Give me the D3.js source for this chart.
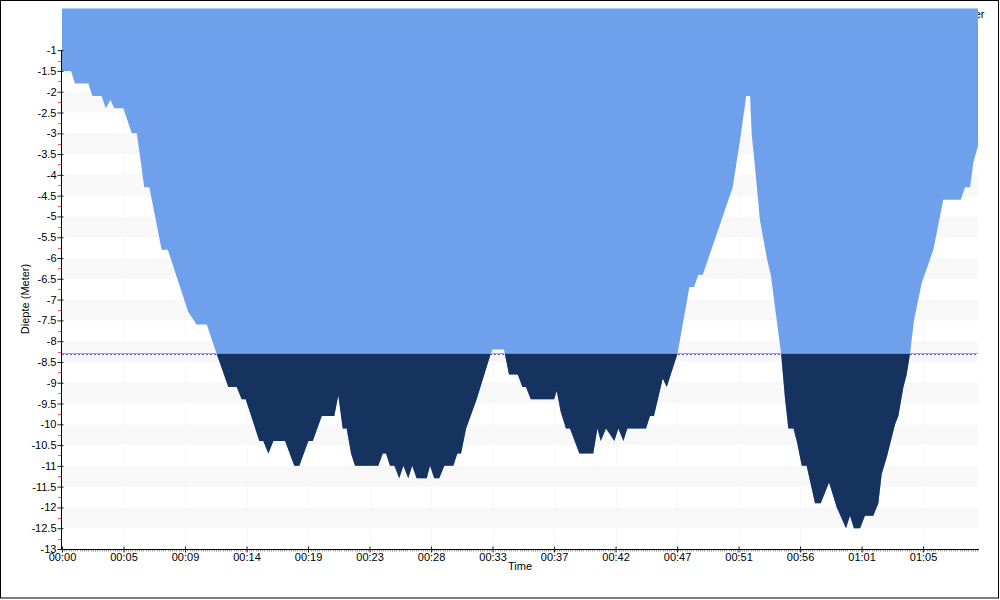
<!DOCTYPE html>
<html><head><meta charset="utf-8">
<script src="https://cdn.jsdelivr.net/npm/d3@7"></script>
<style>
body{margin:0;background:#fff}
svg{display:block}
text{font-family:"Liberation Sans",Arial,sans-serif;font-size:11px;fill:#000}
</style>
</head><body>
<svg id="chart" width="1000" height="600"></svg>
<script>
// ---- data (time in seconds, depth in metres) ----
const timeSec = [0,41,59,120,138,180,199,220,238,279,
 317,340,374,397,453,481,574,612,658,703,
 756,794,817,835,897,915,938,961,1014,1056,
 1079,1120,1140,1181,1238,1256,1276,1294,1314,1332,
 1438,1458,1473,1491,1511,1533,1552,1574,1592,1612,
 1658,1673,1692,1715,1738,1779,1797,1814,1837,1885,
 1949,1957,2009,2032,2072,2093,2109,2131,2237,2249,
 2267,2291,2309,2352,2415,2434,2449,2473,2511,2529,
 2552,2570,2655,2673,2691,2731,2749,2798,2852,2873,
 2893,2913,3049,3087,3110,3128,3135,3150,3173,3204,3222,
 3269,3287,3302,3325,3340,3363,3385,3423,3449,3487,
 3522,3564,3582,3600,3628,3650,3688,3711,3726,3749,
 3787,3802,3825,3840,3855,3873,3908,3961,4006,4086,
 4105,4128,4143,4164];
const depth = [-1.5,-1.5,-1.8,-1.8,-2.1,-2.1,-2.4,-2.2,-2.4,-2.4,
 -3.0,-3.0,-4.3,-4.3,-5.8,-5.8,-7.3,-7.6,-7.6,-8.3,
 -9.1,-9.1,-9.4,-9.4,-10.4,-10.4,-10.7,-10.4,-10.4,-11.0,
 -11.0,-10.4,-10.4,-9.8,-9.8,-9.3,-10.1,-10.1,-10.7,-11.0,
 -11.0,-10.7,-10.7,-11.0,-11.0,-11.3,-11.0,-11.3,-11.0,-11.3,
 -11.3,-11.0,-11.3,-11.3,-11.0,-11.0,-10.7,-10.7,-10.1,-9.4,
 -8.3,-8.2,-8.2,-8.8,-8.8,-9.1,-9.1,-9.4,-9.4,-9.2,
 -9.7,-10.1,-10.1,-10.7,-10.7,-10.1,-10.4,-10.1,-10.4,-10.1,
 -10.4,-10.1,-10.1,-9.8,-9.8,-8.9,-9.1,-8.3,-6.7,-6.7,
 -6.4,-6.4,-4.3,-3.0,-2.1,-2.1,-3.0,-3.8,-5.1,-6.0,-6.4,
 -8.3,-9.4,-10.1,-10.1,-10.4,-11.0,-11.0,-11.9,-11.9,-11.4,
 -12.0,-12.5,-12.2,-12.5,-12.5,-12.2,-12.2,-11.9,-11.2,-10.8,
 -10.0,-9.8,-9.1,-8.8,-8.3,-7.5,-6.6,-5.8,-4.6,-4.6,
 -4.3,-4.3,-3.7,-3.3];
const limitDepth = -8.3;
const xTickLabels = ["00:00","00:05","00:09","00:14","00:19","00:23","00:28","00:33","00:37","00:42","00:47","00:51","00:56","01:01","01:05"];
const xTickStepSec = 279.6;
const yTickLabels = ["-1","-1.5","-2","-2.5","-3","-3.5","-4","-4.5","-5","-5.5","-6","-6.5","-7","-7.5","-8","-8.5","-9","-9.5","-10","-10.5","-11","-11.5","-12","-12.5","-13"];
const yTitle = "Diepte (Meter)";
const xTitle = "Time";

// ---- layout ----
const svg = d3.select("#chart");
const L = 62, R = 978, T = 8.6, B = 549;
const x = d3.scaleLinear().domain([0, 4164]).range([L, R]);
const y = d3.scaleLinear().domain([0, -13]).range([T, B]);
const data = timeSec.map((t, i) => ({t, d: depth[i]}));
const yTickVals = yTickLabels.map(Number);

// border
svg.append("rect").attr("x",0.5).attr("y",0.5).attr("width",998).attr("height",597.5)
  .attr("fill","none").attr("stroke","#000");

// stripes
const bands = d3.range(0, 13, 1);
svg.append("g").selectAll("rect").data(bands).join("rect")
  .attr("x", L).attr("width", R - L)
  .attr("y", d => y(-d)).attr("height", d => y(-d - 0.5) - y(-d))
  .attr("fill", "#f8f8f8");

// faint vertical grid
const xTickVals = xTickLabels.map((_, i) => i * xTickStepSec);
svg.append("g").selectAll("line").data(xTickVals.slice(1)).join("line")
  .attr("x1", d => Math.round(x(d)) + 0.5).attr("x2", d => Math.round(x(d)) + 0.5)
  .attr("y1", T).attr("y2", B).attr("stroke", "#f7f7f7");

// clipped legend text
svg.append("text").attr("x", 984.5).attr("y", 18).attr("text-anchor", "end").text("Meter");

// limit line
svg.append("line").attr("x1", L).attr("x2", R)
  .attr("y1", Math.round(y(limitDepth)) + 0.5).attr("y2", Math.round(y(limitDepth)) + 0.5)
  .attr("stroke", "#5b5bff").attr("stroke-dasharray", "2,2");

// areas
const areaTop = d3.area().x(d => x(d.t)).y0(y(0)).y1(d => y(d.d));
svg.append("path").datum(data).attr("d", areaTop).attr("fill", "#6fa0ec");

svg.append("clipPath").attr("id", "below").append("rect")
  .attr("x", L).attr("width", R - L)
  .attr("y", y(limitDepth)).attr("height", B - y(limitDepth));
const areaLow = d3.area().x(d => x(d.t)).y0(y(limitDepth)).y1(d => y(d.d));
svg.append("path").datum(data).attr("d", areaLow).attr("fill", "#16325e")
  .attr("clip-path", "url(#below)");

// y axis
const yAxisG = svg.append("g").attr("transform", `translate(${L - 0.5},0)`)
  .call(d3.axisLeft(y).tickValues(yTickVals).tickFormat((d, i) => yTickLabels[i])
    .tickSizeInner(4).tickSizeOuter(0).tickPadding(1));
yAxisG.select(".domain").remove();
yAxisG.selectAll("text").style("font-family", '"Liberation Sans",Arial,sans-serif').style("font-size", "11px");
yAxisG.selectAll(".tick line").attr("x1", 2).attr("stroke", "#222");
svg.append("line").attr("x1", L - 0.5).attr("x2", L - 0.5).attr("y1", y(-1)).attr("y2", B)
  .attr("stroke", "#000");
const yMinor = d3.range(1.25, 13, 0.5).map(v => -v);
svg.append("g").selectAll("line").data(yMinor).join("line")
  .attr("x1", L - 4).attr("x2", L - 1)
  .attr("y1", d => Math.round(y(d)) + 0.5).attr("y2", d => Math.round(y(d)) + 0.5)
  .attr("stroke", "#ff5a5a");

// x axis
const xMinor = d3.range(0, 4164, 10);
svg.append("g").selectAll("line").data(xMinor).join("line")
  .attr("x1", d => Math.round(x(d)) + 0.5).attr("x2", d => Math.round(x(d)) + 0.5)
  .attr("y1", B).attr("y2", B + 2.5).attr("stroke", "#9a9a9a");
const xAxisG = svg.append("g").attr("transform", `translate(0,${B + 0.5})`)
  .call(d3.axisBottom(x).tickValues(xTickVals).tickFormat((d, i) => xTickLabels[i])
    .tickSizeInner(3).tickSizeOuter(0).tickPadding(1));
xAxisG.select(".domain").attr("stroke", "#000").attr("d", `M${L - 1},0H${R + 1}`);
xAxisG.selectAll(".tick line").attr("y1", -3).attr("y2", 3).attr("stroke", "#222");
xAxisG.selectAll("text").style("font-family", '"Liberation Sans",Arial,sans-serif').style("font-size", "11px");

// titles
svg.append("text").attr("x", (L + R) / 2).attr("y", 570).attr("text-anchor", "middle").text(xTitle);
svg.append("text").attr("transform", "translate(29,299) rotate(-90)").attr("text-anchor", "middle").text(yTitle);
</script>
</body></html>
